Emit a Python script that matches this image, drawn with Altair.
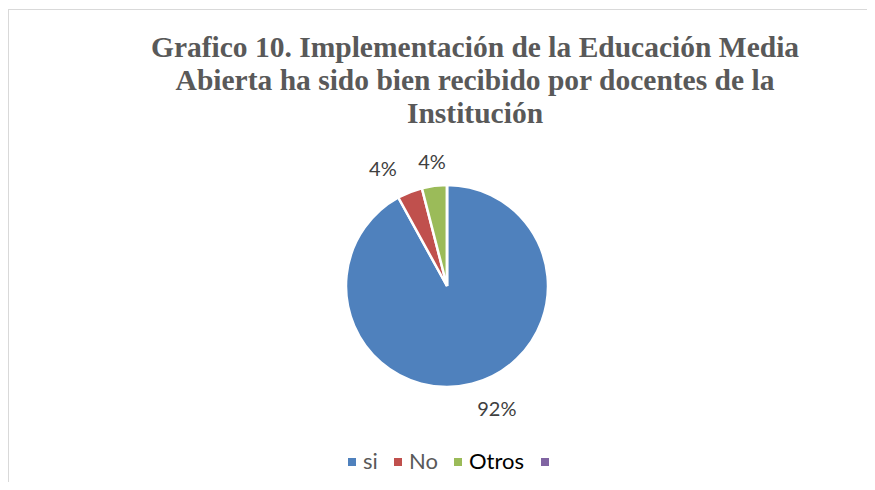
import altair as alt
import pandas as pd

# ---- data ----
categories = ["si", "No", "Otros", " "]
values = [92, 4, 4, 0]
pct_labels = ["92%", "4%", "4%", ""]
order_idx = [0, 1, 2, 3]
title_lines = [
    "Grafico 10. Implementación de la Educación Media",
    "Abierta ha sido bien recibido por docentes de la",
    "Institución",
]
colors = ["#4F81BD", "#C0504D", "#9BBB59", "#8064A2"]

df = pd.DataFrame({"cat": categories, "val": values, "lab": pct_labels, "idx": order_idx})

# ---- layout / style ----
W, H = 859, 474
CX, CY, R = 439, 278, 101
LABEL_R = 128
label_offsets = {"No": (-17, 3), "Otros": (1, 4), "si": (18, 0)}

base = alt.Chart(df)

color = alt.Color(
    "cat:N",
    scale=alt.Scale(domain=categories, range=colors),
    sort=categories,
    legend=alt.Legend(
        title=None,
        orient="none",
        legendX=333,
        legendY=443,
        direction="horizontal",
        symbolType="square",
        symbolSize=64,
        symbolStrokeWidth=0,
        labelFont="Lato",
        labelFontSize=22,
        labelColor={"expr": "datum.label == 'Otros' ? '#000000' : '#595959'"},
        labelOffset=0,
        columnPadding=9,
    ),
)

pie = base.mark_arc(radius=R, stroke="white", strokeWidth=2.5).encode(
    theta=alt.Theta("val:Q", stack=True),
    color=color,
    order=alt.Order("idx:Q"),
    x=alt.value(CX),
    y=alt.value(CY),
)

label_layers = []
for cat, (dx, dy) in label_offsets.items():
    label_layers.append(
        base.mark_text(
            radius=LABEL_R, font="Lato", fontSize=20, color="#404040", dx=dx, dy=dy
        ).encode(
            theta=alt.Theta("val:Q", stack=True),
            order=alt.Order("idx:Q"),
            text=alt.condition(f"datum.cat == '{cat}'", "lab:N", alt.value("")),
            x=alt.value(CX),
            y=alt.value(CY),
        )
    )

one = alt.Chart(pd.DataFrame({"a": [0]}))

title = one.mark_text(
    font="Liberation Serif",
    fontWeight="bold",
    fontSize=29.5,
    color="#595959",
    align="center",
    baseline="alphabetic",
    lineHeight=33,
).encode(x=alt.value(467), y=alt.value(49), text=alt.value(title_lines))

top_border = one.mark_rule(color="#d9d9d9", strokeWidth=1).encode(
    x=alt.value(0), x2=alt.value(W), y=alt.value(1.5)
)
left_border = one.mark_rule(color="#d9d9d9", strokeWidth=1).encode(
    x=alt.value(0.5), y=alt.value(1.5), y2=alt.value(H)
)

chart = (
    alt.layer(top_border, left_border, pie, *label_layers, title)
    .properties(width=W, height=H, autosize=alt.AutoSizeParams(type="none"), padding=0)
    .configure_view(stroke=None)
)

chart.save("out.html", embed_options={"renderer": "svg", "actions": False})
